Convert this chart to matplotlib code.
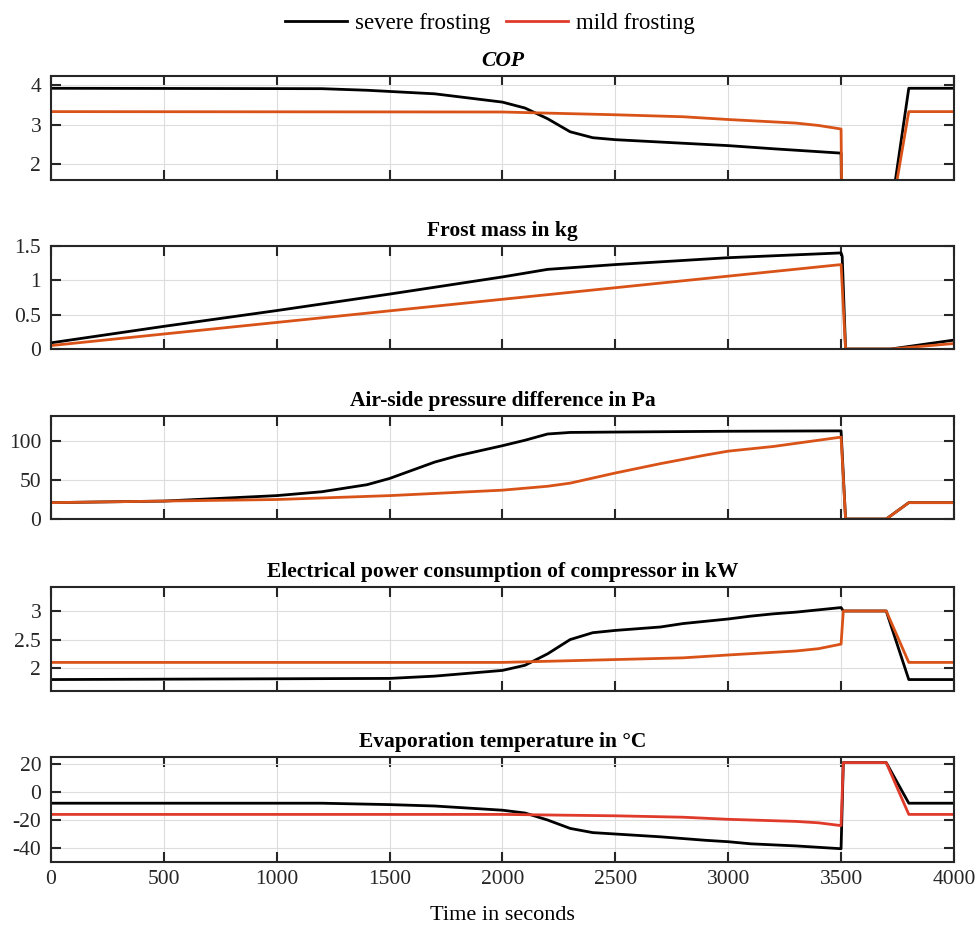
# Frosting comparison: severe vs mild frosting over one cycle
import matplotlib.pyplot as plt
from matplotlib.ticker import FuncFormatter

plt.rcParams['font.family'] = ['Liberation Serif', 'DejaVu Serif']
plt.rcParams['font.size'] = 15

# Time stamps (s) for each series
t_cop_sev = [0, 1200, 1400, 1700, 2000, 2100, 2200, 2300, 2400, 2500, 2700, 3000, 3200, 3500,
             3505, 3700, 3800, 4000]
cop_sev = [3.92, 3.91, 3.87, 3.78, 3.57, 3.42, 3.15, 2.82, 2.67, 2.62, 2.56, 2.47, 2.39, 2.28,
           0, 0, 3.92, 3.92]
t_cop_mild = [0, 2000, 2500, 2800, 3000, 3300, 3400, 3500, 3505, 3700, 3800, 4000]
cop_mild = [3.33, 3.32, 3.25, 3.2, 3.13, 3.04, 2.98, 2.89, 0, 0, 3.33, 3.33]

t_frost_sev = [0, 500, 1000, 1500, 2000, 2200, 2500, 3000, 3500, 3505, 3520, 3720, 4000]
frost_sev = [0.09, 0.33, 0.56, 0.80, 1.05, 1.16, 1.23, 1.33, 1.40, 1.35, 0, 0, 0.13]
t_frost_mild = [0, 3500, 3520, 3720, 4000]
frost_mild = [0.05, 1.23, 0, 0, 0.08]

t_dp_sev = [0, 500, 1000, 1200, 1400, 1500, 1700, 1800, 2000, 2100, 2200, 2300, 2500, 3000,
            3500, 3520, 3700, 3800, 4000]
dp_sev = [21, 23, 30, 35, 44, 52, 73, 81, 94, 101, 109, 111, 111.5, 112.5, 113, 0, 0, 21, 21]
t_dp_mild = [0, 1000, 1500, 2000, 2200, 2300, 2500, 2700, 2900, 3000, 3200, 3500, 3520, 3700,
             3800, 4000]
dp_mild = [21, 25, 30, 37, 42, 46, 59, 71, 82, 87, 93, 105, 0, 0, 21, 21]

t_pow_sev = [0, 1500, 1700, 2000, 2100, 2200, 2300, 2400, 2500, 2700, 2800, 2900, 3000, 3100,
             3200, 3300, 3500, 3510, 3700, 3800, 4000]
pow_sev = [1.80, 1.82, 1.86, 1.96, 2.05, 2.25, 2.50, 2.62, 2.66, 2.72, 2.78, 2.82, 2.86, 2.91,
           2.95, 2.98, 3.06, 3.0, 3.0, 1.80, 1.80]
t_pow_mild = [0, 2000, 2500, 2800, 3000, 3300, 3400, 3500, 3510, 3700, 3800, 4000]
pow_mild = [2.10, 2.10, 2.15, 2.18, 2.23, 2.30, 2.34, 2.42, 3.0, 3.0, 2.10, 2.10]

t_evap_sev = [0, 1200, 1500, 1700, 2000, 2100, 2200, 2300, 2400, 2500, 2700, 2900, 3000, 3100,
              3300, 3500, 3510, 3700, 3800, 4000]
evap_sev = [-8, -8, -9, -10, -13, -15, -20, -26, -29, -30, -32, -34.5, -35.5, -37, -38.5,
            -40.5, 21, 21, -8, -8]
t_evap_mild = [0, 2000, 2500, 2800, 3000, 3300, 3400, 3500, 3510, 3700, 3800, 4000]
evap_mild = [-16, -16, -17, -18, -19.5, -21, -22, -24, 21, 21, -16, -16]

titles = ['COP', 'Frost mass in kg', 'Air-side pressure difference in Pa',
          'Electrical power consumption of compressor in kW', 'Evaporation temperature in °C']
ylims = [(1.6, 4.23), (0, 1.5), (0, 132), (1.6, 3.42), (-50, 25)]
yticks = [[2, 3, 4], [0, 0.5, 1, 1.5], [0, 50, 100], [2, 2.5, 3], [-40, -20, 0, 20]]

series = [
    (t_cop_sev, cop_sev, t_cop_mild, cop_mild),
    (t_frost_sev, frost_sev, t_frost_mild, frost_mild),
    (t_dp_sev, dp_sev, t_dp_mild, dp_mild),
    (t_pow_sev, pow_sev, t_pow_mild, pow_mild),
    (t_evap_sev, evap_sev, t_evap_mild, evap_mild),
]
mild_colors = ['#D95319', '#D95319', '#D95319', '#D95319', '#E03A2A']

fig = plt.figure(figsize=(9.8, 9.26), dpi=100)
bottoms = [0.8056, 0.6231, 0.4395, 0.2538, 0.0691]
heights = [0.1123, 0.1112, 0.1112, 0.1123, 0.1134]

fmt = FuncFormatter(lambda v, p: '%g' % v)
axes = []
for i in range(5):
    ax = fig.add_axes([0.052, bottoms[i], 0.9214, heights[i]])
    ts, ys, tm, ym = series[i]
    l1, = ax.plot(ts, ys, color='black', lw=2, label='severe frosting')
    l2, = ax.plot(tm, ym, color=mild_colors[i], lw=2, label='mild frosting')
    ax.set_xlim(0, 4000)
    ax.set_ylim(*ylims[i])
    ax.set_yticks(yticks[i])
    ax.set_xticks(range(0, 4001, 500))
    ax.yaxis.set_major_formatter(fmt)
    ax.grid(True, color='#dddddd', lw=0.8)
    ax.tick_params(direction='in', length=7, width=1.5, top=True, right=True,
                   labelsize=15.5, colors='#262626')
    ax.tick_params(axis='y', pad=7)
    ax.tick_params(axis='x', pad=6)
    for s in ax.spines.values():
        s.set_linewidth(1.5)
        s.set_color('#262626')
    if i == 0:
        ax.set_title(titles[i], fontsize=15.5, fontweight='bold', style='italic', pad=7)
    else:
        ax.set_title(titles[i], fontsize=15.5, fontweight='bold', pad=7)
    if i < 4:
        ax.tick_params(labelbottom=False)
    axes.append(ax)

axes[-1].set_xlabel('Time in seconds', fontsize=16, labelpad=12)
fig.legend([l1, l2], ['severe frosting', 'mild frosting'], loc='upper center',
           bbox_to_anchor=(0.5, 1.008), ncol=2, frameon=False, fontsize=16.5,
           handlelength=2.7, columnspacing=0.7, handletextpad=0.35)

fig.savefig('out.png', dpi=100)
